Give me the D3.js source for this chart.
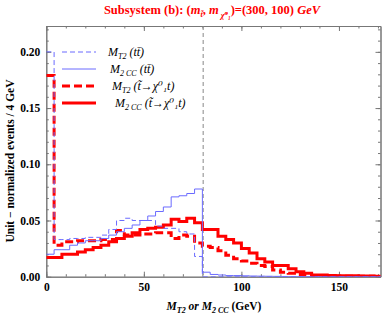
<!DOCTYPE html>
<html>
<head>
<meta charset="utf-8">
<script src="https://cdn.jsdelivr.net/npm/d3@7"></script>
<style>
  body { margin: 0; background: #fff; }
  svg { font-family: "Liberation Serif", "DejaVu Serif", serif; }
</style>
</head>
<body>
<script>
// 4 GeV bins starting at 0
const binWidth = 4
const mt2TT = [0.200, 0.033, 0.033, 0.034, 0.034, 0.035, 0.035, 0.037, 0.042, 0.050,
  0.052, 0.050, 0.050, 0.050, 0.045, 0.043, 0.043, 0.040, 0.038, 0.018,
  0, 0, 0, 0, 0, 0, 0, 0, 0, 0, 0, 0, 0, 0, 0, 0, 0, 0, 0, 0, 0, 0, 0]
const m2ccTT = [0.020, 0.024, 0.024, 0.028, 0.030, 0.032, 0.032, 0.034, 0.037, 0.040,
  0.043, 0.046, 0.050, 0.054, 0.058, 0.062, 0.071, 0.072, 0.074, 0.078,
  0.004, 0.002, 0.0015, 0.001, 0.001, 0.0008, 0.0006, 0.0005, 0.0004, 0.0003,
  0.0002, 0.0002, 0.0001, 0, 0, 0, 0, 0, 0, 0, 0, 0, 0]
const mt2Stop = [0.179, 0.028, 0.031, 0.031, 0.032, 0.032, 0.032, 0.033, 0.033, 0.041,
  0.037, 0.037, 0.038, 0.038, 0.039, 0.039, 0.034, 0.037, 0.036, 0.030,
  0.027, 0.026, 0.023, 0.019, 0.016, 0.014, 0.012, 0.010, 0.009, 0.006,
  0.004, 0.003, 0.002, 0.0015, 0.001, 0.001, 0.0008, 0.0006, 0.0005, 0.0004,
  0.0003, 0.0003, 0.0002]
const m2ccStop = [0.017, 0.017, 0.020, 0.020, 0.022, 0.024, 0.026, 0.028, 0.031, 0.034,
  0.036, 0.039, 0.042, 0.043, 0.044, 0.046, 0.051, 0.049, 0.052, 0.048,
  0.042, 0.042, 0.036, 0.033, 0.030, 0.025, 0.021, 0.016, 0.013, 0.010,
  0.010, 0.007, 0.0045, 0.003, 0.0015, 0.0015, 0.001, 0.0008, 0.0008, 0.0008,
  0.0007, 0.0006, 0.0005]
const wMass = 80.4
const xTicks = [0, 50, 100, 150]
const yTicks = [0.00, 0.05, 0.10, 0.15, 0.20]

const dim = {width: 382, height: 316}
const svg = d3.select('body').append('svg').attr('width', dim.width).attr('height', dim.height)

const plot = {left: 46.3, right: 380.5, top: 26, bottom: 276.7}
const x = d3.scaleLinear([0, 171.3], [plot.left, plot.right])
const y = d3.scaleLinear([0, 0.223], [plot.bottom, plot.top])

svg.append('clipPath').attr('id', 'clip').append('rect')
  .attr('x', plot.left).attr('y', plot.top)
  .attr('width', plot.right - plot.left).attr('height', plot.bottom - plot.top)

// frame + ticks (Mathematica style, pointing inward)
const tickCol = '#777'
function frameAxis(axis, tx, ty) {
  const g = svg.append('g').attr('transform', `translate(${tx},${ty})`).call(axis)
  g.select('.domain').attr('stroke', tickCol)
  g.selectAll('line').attr('stroke', tickCol)
  return g
}
const minorX = d3.range(0, 171, 10)
const minorY = d3.range(0, 0.2201, 0.01)
frameAxis(d3.axisBottom(x).tickValues(minorX).tickSize(-2.5).tickFormat('').tickSizeOuter(0), 0, plot.bottom)
frameAxis(d3.axisTop(x).tickValues(minorX).tickSize(-2.5).tickFormat('').tickSizeOuter(0), 0, plot.top)
frameAxis(d3.axisLeft(y).tickValues(minorY).tickSize(-2.5).tickFormat('').tickSizeOuter(0), plot.left, 0)
frameAxis(d3.axisRight(y).tickValues(minorY).tickSize(-2.5).tickFormat('').tickSizeOuter(0), plot.right, 0)

const xAx = frameAxis(d3.axisBottom(x).tickValues(xTicks).tickSize(-5).tickPadding(6).tickSizeOuter(0), 0, plot.bottom)
xAx.selectAll('text').attr('font-size', 11.5).attr('font-weight', 'bold').attr('fill', '#000')
  .attr('font-family', '"Liberation Serif", serif')
frameAxis(d3.axisTop(x).tickValues(xTicks).tickSize(-5).tickFormat('').tickSizeOuter(0), 0, plot.top)
const yAx = frameAxis(d3.axisLeft(y).tickValues(yTicks).tickSize(-5).tickPadding(6).tickFormat(d3.format('.2f')).tickSizeOuter(0), plot.left, 0)
yAx.selectAll('text').attr('font-size', 11.5).attr('font-weight', 'bold').attr('fill', '#000')
  .attr('font-family', '"Liberation Serif", serif')
frameAxis(d3.axisRight(y).tickValues(yTicks).tickSize(-5).tickFormat('').tickSizeOuter(0), plot.right, 0)

// W mass line
svg.append('line')
  .attr('x1', x(wMass)).attr('x2', x(wMass))
  .attr('y1', plot.top).attr('y2', plot.bottom)
  .attr('stroke', '#888').attr('stroke-width', 1).attr('stroke-dasharray', '4,3')

// histograms
const blue = '#6b6bff'
const red = '#ff0000'
const series = [
  {vals: m2ccStop, color: red, width: 3, dash: null},
  {vals: mt2Stop, color: red, width: 3, dash: '8,4'},
  {vals: m2ccTT, color: blue, width: 1, dash: null},
  {vals: mt2TT, color: blue, width: 1, dash: '5,3'},
]
const step = d3.line().x(d => x(d[0])).y(d => y(d[1])).curve(d3.curveStepAfter)
const hg = svg.append('g').attr('clip-path', 'url(#clip)')
series.forEach(s => {
  const pts = s.vals.map((v, i) => [i * binWidth, v])
  pts.push([s.vals.length * binWidth, s.vals[s.vals.length - 1]])
  hg.append('path').attr('d', step(pts))
    .attr('fill', 'none').attr('stroke', s.color).attr('stroke-width', s.width)
    .attr('stroke-dasharray', s.dash).attr('stroke-linejoin', 'miter')
})

// legend
const legend = [
  {color: blue, width: 1, dash: '5,3', y: 52, tx: 108, main: 'T2', tail: 'tt'},
  {color: blue, width: 1, dash: null, y: 69, tx: 110, main: '2 CC', tail: 'tt'},
  {color: red, width: 3, dash: '8,4', y: 86, tx: 112, main: 'T2', tail: 'stop'},
  {color: red, width: 3, dash: null, y: 103, tx: 115, main: '2 CC', tail: 'stop'},
]
legend.forEach(l => {
  svg.append('line').attr('x1', 62).attr('x2', 96).attr('y1', l.y).attr('y2', l.y)
    .attr('stroke', l.color).attr('stroke-width', l.width).attr('stroke-dasharray', l.dash)
  const t = svg.append('text').attr('x', l.tx).attr('y', l.y + 4)
    .attr('font-size', 12).attr('font-style', 'italic')
  t.append('tspan').text('M')
  t.append('tspan').attr('font-size', 8).attr('dy', 3).text(l.main)
  if (l.tail === 'tt') {
    t.append('tspan').attr('dy', -3).text(' (tt\u0304)')
  } else {
    t.append('tspan').attr('dy', -3).text(' (t\u0303\u2192\u03c7\u2070\u2081t)')
  }
})

// title
const title = svg.append('text').attr('x', 212).attr('y', 14).attr('text-anchor', 'middle')
  .attr('fill', red).attr('font-size', 12.5).attr('font-weight', 'bold')
title.append('tspan').text('Subsystem (b): (')
title.append('tspan').attr('font-style', 'italic').text('m')
title.append('tspan').attr('font-size', 8).attr('dy', 3).attr('font-style', 'italic').text('t\u0303')
title.append('tspan').attr('dy', -3).text(', ')
title.append('tspan').attr('font-style', 'italic').text('m')
title.append('tspan').attr('font-size', 8).attr('dy', 4).attr('font-style', 'italic').text(' \u03c7\u0303\u2070\u2081')
title.append('tspan').attr('dy', -4).text(')=(300, 100) ')
title.append('tspan').attr('font-style', 'italic').text('GeV')

// axis labels
const xl = svg.append('text').attr('x', 214).attr('y', 310).attr('text-anchor', 'middle')
  .attr('font-size', 11.5).attr('font-weight', 'bold')
xl.append('tspan').attr('font-style', 'italic').text('M')
xl.append('tspan').attr('font-style', 'italic').attr('font-size', 8).attr('dy', 3).text('T2')
xl.append('tspan').attr('font-style', 'italic').attr('dy', -3).text(' or  M')
xl.append('tspan').attr('font-style', 'italic').attr('font-size', 8).attr('dy', 3).text('2 CC')
xl.append('tspan').attr('dy', -3).text(' (GeV)')

svg.append('text').attr('transform', 'translate(14,161) rotate(-90)').attr('text-anchor', 'middle')
  .attr('font-size', 11.5).attr('font-weight', 'bold')
  .text('Unit \u2212 normalized events / 4 GeV')
</script>
</body>
</html>
